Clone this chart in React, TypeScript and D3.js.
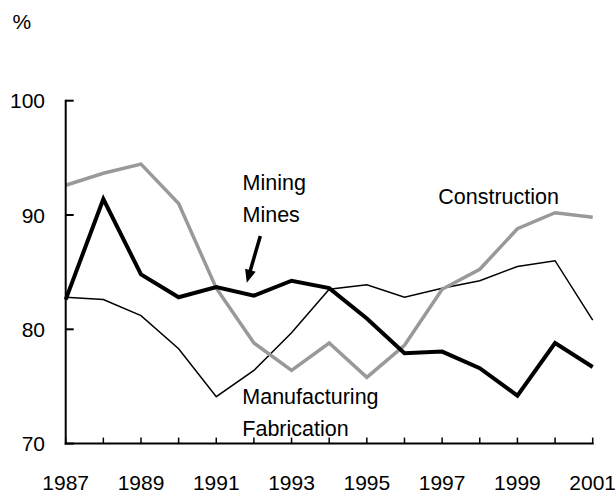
import React from "react";
import * as d3 from "d3";

const years = [1987, 1988, 1989, 1990, 1991, 1992, 1993, 1994, 1995, 1996, 1997, 1998, 1999, 2000, 2001];
const construction = [92.6, 93.65, 94.45, 91.0, 83.6, 78.8, 76.4, 78.8, 75.8, 78.6, 83.5, 85.25, 88.8, 90.2, 89.8];
const mining = [82.6, 91.4, 84.8, 82.8, 83.7, 82.95, 84.25, 83.6, 80.95, 77.9, 78.05, 76.6, 74.2, 78.8, 76.7];
const manufacturing = [82.8, 82.6, 81.2, 78.3, 74.1, 76.4, 79.7, 83.5, 83.9, 82.8, 83.6, 84.25, 85.5, 86.0, 80.8];
const yTicks = [70, 80, 90, 100];
const xLabelYears = [1987, 1989, 1991, 1993, 1995, 1997, 1999, 2001];

const W = 615;
const H = 492;
const FONT = "'Liberation Sans', Arial, sans-serif";
const AXIS_FS = 21;
const NOTE_FS = 21.5;

export default function App() {
  const x = d3.scaleLinear().domain([1987, 2001]).range([65.7, 592.7]);
  const y = d3.scaleLinear().domain([70, 100]).range([443.6, 100.7]);

  const line = d3
    .line<number>()
    .x((_, i) => x(years[i]))
    .y((d) => y(d));

  // arrow annotation in data space
  const aStart = [x(1992.17), y(88.16)];
  const aTip = [x(1991.81), y(84.08)];
  const dx = aTip[0] - aStart[0];
  const dy = aTip[1] - aStart[1];
  const len = Math.sqrt(dx * dx + dy * dy);
  const ux = dx / len;
  const uy = dy / len;
  const headLen = 13;
  const headW = 5.5;
  const bx = aTip[0] - ux * headLen;
  const by = aTip[1] - uy * headLen;
  const head = `${aTip[0]},${aTip[1]} ${bx - uy * headW},${by + ux * headW} ${bx + uy * headW},${by - ux * headW}`;

  return (
    <div style={{ position: "absolute", left: 0, top: 0 }}>
      <svg width={W} height={H} style={{ display: "block", background: "#fff" }} fontFamily={FONT}>
        <text x={12.5} y={29} fontSize={AXIS_FS} fill="#000">%</text>

        {/* lines */}
        <path d={line(manufacturing) || ""} fill="none" stroke="#000" strokeWidth={1.5} strokeLinejoin="miter" />
        <path d={line(construction) || ""} fill="none" stroke="#999999" strokeWidth={3.5} strokeLinejoin="miter" />
        <path d={line(mining) || ""} fill="none" stroke="#000" strokeWidth={4} strokeLinejoin="miter" />

        {/* axes */}
        <line x1={x(1987)} x2={x(1987)} y1={y(100) - 1} y2={y(70) + 1} stroke="#000" strokeWidth={2} />
        <line x1={x(1987) - 1} x2={x(2001) + 1} y1={y(70)} y2={y(70)} stroke="#000" strokeWidth={2} />
        {yTicks.map((t) => (
          <g key={t}>
            <line x1={x(1987)} x2={x(1987) + 8} y1={y(t)} y2={y(t)} stroke="#000" strokeWidth={2} />
            <text x={45} y={y(t)} dy="0.36em" textAnchor="end" fontSize={AXIS_FS} fill="#000">{t}</text>
          </g>
        ))}
        {years.map((yr) => (
          <line key={yr} x1={x(yr)} x2={x(yr)} y1={y(70)} y2={y(70) - 6} stroke="#000" strokeWidth={1.5} />
        ))}
        {xLabelYears.map((yr) => (
          <text key={yr} x={x(yr)} y={489.5} textAnchor="middle" fontSize={AXIS_FS} fill="#000">{yr}</text>
        ))}

        {/* annotations */}
        <text x={242.5} y={190} fontSize={NOTE_FS} fill="#000">Mining</text>
        <text x={242.5} y={222} fontSize={NOTE_FS} fill="#000">Mines</text>
        <line x1={aStart[0]} y1={aStart[1]} x2={bx + ux * 2} y2={by + uy * 2} stroke="#000" strokeWidth={3.5} />
        <polygon points={head} fill="#000" />
        <text x={438.3} y={203.5} fontSize={NOTE_FS} fill="#000">Construction</text>
        <text x={242.3} y={404} fontSize={NOTE_FS} fill="#000">Manufacturing</text>
        <text x={242.3} y={435.5} fontSize={NOTE_FS} fill="#000">Fabrication</text>
      </svg>
    </div>
  );
}
